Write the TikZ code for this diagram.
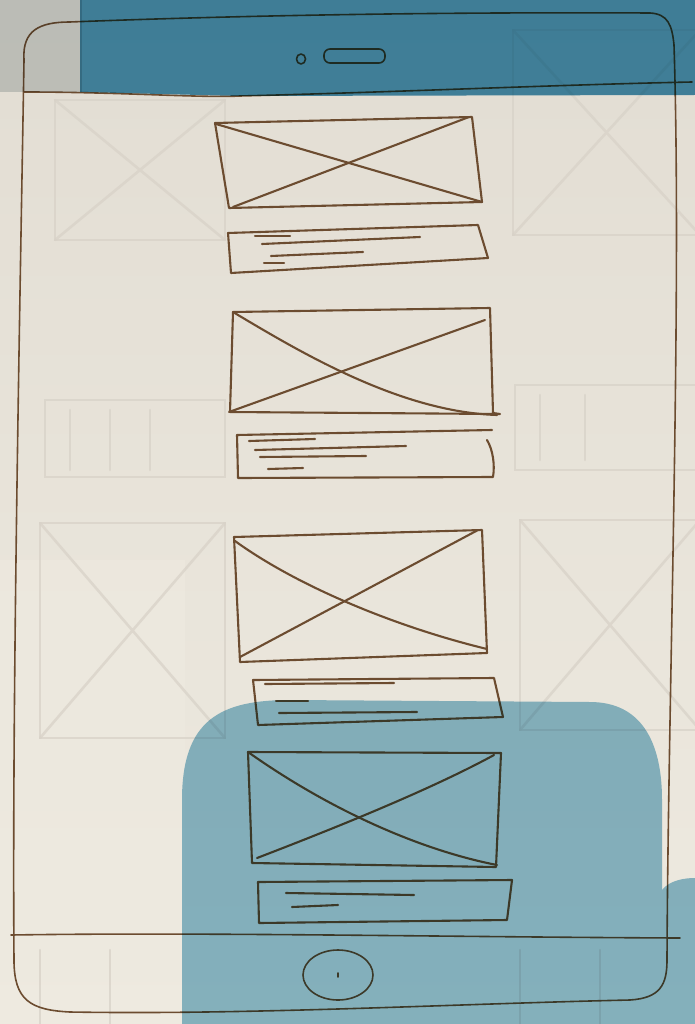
\documentclass[tikz,border=0pt]{standalone}
\usetikzlibrary{calc}
\definecolor{paper}{RGB}{226,221,211}
\definecolor{paperlight}{RGB}{238,234,224}
\definecolor{pencil}{RGB}{108,76,48}
\definecolor{ghost}{RGB}{216,210,200}
\definecolor{topblue}{RGB}{72,145,182}
\definecolor{topgray}{RGB}{212,218,220}
\definecolor{botblue}{RGB}{142,192,214}
\begin{document}
\begin{tikzpicture}[x=1pt,y=-1pt,
  sk/.style={draw=pencil, line width=2.1pt, line cap=round, line join=round},
  thin sk/.style={draw=pencil, line width=1.6pt, line cap=round, line join=round},
  txtln/.style={draw=pencil, line width=2.1pt, line cap=round},
  ghostln/.style={draw=ghost, line width=2.6pt, line cap=round, opacity=0.75}]
\useasboundingbox (0,0) rectangle (695,1024);
% paper
\shade[top color=paper, bottom color=paperlight] (0,0) rectangle (695,1024);
\fill[paperlight, opacity=0.6] (0,560) rectangle (185,1024);
% ghost sketches showing through the paper
\draw[ghostln] (55,100) rectangle (225,240);
\draw[ghostln] (55,100) -- (225,240) (55,240) -- (225,100);
\draw[ghostln] (45,400) rectangle (225,477);
\draw[ghostln] (70,410) -- (70,470) (110,410) -- (110,470) (150,410) -- (150,470);
\draw[ghostln] (40,523) rectangle (225,738);
\draw[ghostln] (40,523) -- (225,738) (40,738) -- (225,523);
\draw[ghostln] (513,30) rectangle (700,235);
\draw[ghostln] (513,30) -- (700,235) (513,235) -- (700,30);
\draw[ghostln] (515,385) rectangle (700,470);
\draw[ghostln] (540,395) -- (540,460) (585,395) -- (585,460);
\draw[ghostln] (520,520) rectangle (700,730);
\draw[ghostln] (520,520) -- (700,730) (520,730) -- (700,520);
\draw[ghostln] (40,950) -- (40,1024) (110,950) -- (110,1024) (520,950) -- (520,1024) (600,950) -- (600,1024);
% tablet outline
\draw[thin sk] (24,60) .. controls (22,30) and (40,22) .. (70,22)
  .. controls (250,15) and (450,12) .. (650,13)
  .. controls (668,14) and (672,25) .. (674,45)
  .. controls (682,300) and (668,700) .. (667,960)
  .. controls (667,985) and (660,998) .. (630,1000)
  .. controls (450,1004) and (250,1015) .. (70,1012)
  .. controls (30,1010) and (14,1000) .. (14,960)
  .. controls (12,700) and (20,300) .. (24,60);
\draw[thin sk] (24,92) .. controls (120,92) and (200,98) .. (240,96)
  .. controls (400,92) and (550,85) .. (692,82);
\draw[thin sk] (11,935) .. controls (200,932) and (450,937) .. (680,938);
% camera and speaker
\draw[thin sk] (301,59) ellipse [x radius=4.5, y radius=5];
\draw[thin sk, rounded corners=6] (324,49) rectangle (385,63);
% home button
\draw[thin sk] (338,975) ellipse [x radius=35, y radius=25];
\draw[thin sk] (338,973) -- (338,977);
% box 1
\draw[sk] (215,123) -- (472,117) -- (482,202) -- (229,208) -- cycle;
\draw[sk] (216,124) -- (482,202);
\draw[sk] (233,207) -- (469,117);
\draw[sk] (228,233) -- (478,225) -- (488,258) -- (231,273) -- cycle;
\draw[txtln] (255,236) -- (290,236);
\draw[txtln] (262,244) -- (420,237);
\draw[txtln] (271,256) -- (363,252);
\draw[txtln] (264,263) -- (284,263);
% box 2
\draw[sk] (233,312) -- (490,308) -- (493,413) -- (500,414) -- (230,412) -- cycle;
\draw[sk] (233,312) .. controls (300,352) and (400,412) .. (497,415);
\draw[sk] (229,412) -- (485,320);
\draw[sk] (487,440) .. controls (493,450) and (495,465) .. (493,477) -- (238,478) -- (237,435) -- (492,430);
\draw[txtln] (249,441) -- (315,439);
\draw[txtln] (255,450) -- (406,446);
\draw[txtln] (260,457) -- (366,456);
\draw[txtln] (268,469) -- (303,468);
% box 3
\draw[sk] (234,537) -- (482,530) -- (487,653) -- (240,662) -- cycle;
\draw[sk] (235,541) .. controls (300,588) and (400,628) .. (487,649);
\draw[sk] (240,657) -- (478,530);
\draw[sk] (253,680) -- (494,678) -- (503,717) -- (258,725) -- cycle;
\draw[txtln] (265,684) -- (394,683);
\draw[txtln] (276,701) -- (308,701);
\draw[txtln] (279,713) -- (417,712);
% box 4
\draw[sk] (248,752) -- (501,753) -- (496,867) -- (252,863) -- cycle;
\draw[sk] (248,752) .. controls (330,810) and (420,850) .. (497,865);
\draw[sk] (257,858) .. controls (330,830) and (430,790) .. (494,755);
\draw[sk] (258,882) -- (512,880) -- (507,920) -- (259,923) -- cycle;
\draw[txtln] (286,893) -- (414,895);
\draw[txtln] (292,907) -- (338,905);
% shadows
\begin{scope}[blend mode=multiply]
\fill[topgray] (0,0) rectangle (82,92);
\fill[topblue] (80,0) -- (695,0) -- (695,95) -- (240,96) -- (80,92) -- cycle;
\fill[botblue] (182,1024) -- (182,800) .. controls (182,720) and (220,700) .. (290,700)
  -- (590,702) .. controls (640,702) and (662,740) .. (662,800)
  -- (662,890) .. controls (670,880) and (685,878) .. (695,878) -- (695,1024) -- cycle;
\end{scope}
\end{tikzpicture}
\end{document}
